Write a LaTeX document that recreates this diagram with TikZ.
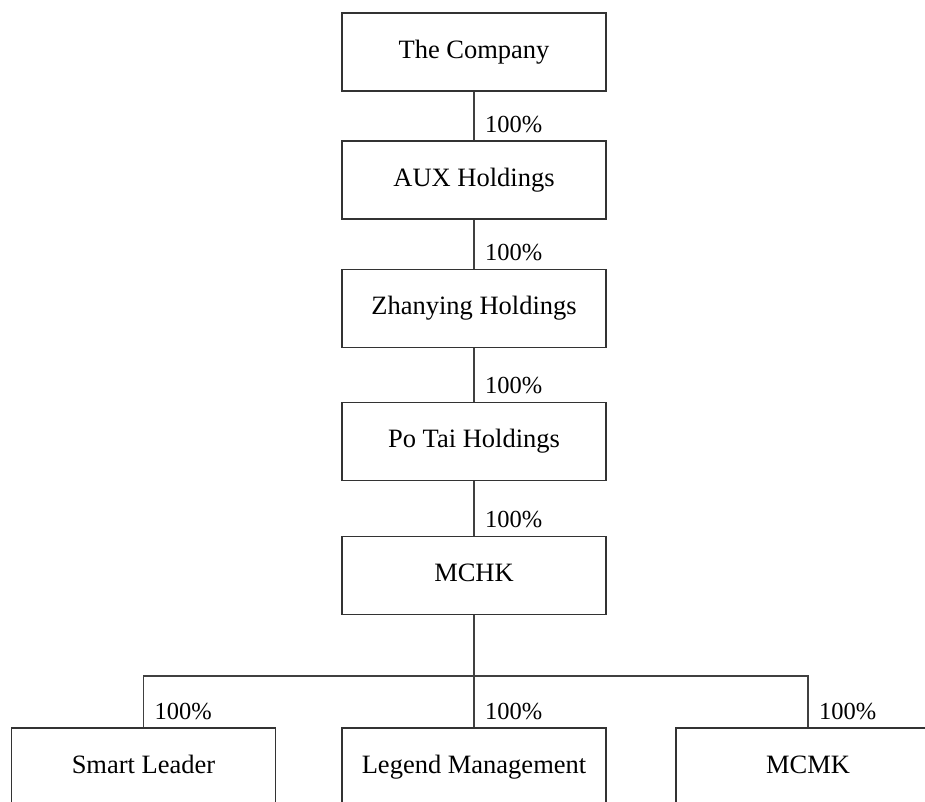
\documentclass[tikz,border=0pt]{standalone}
\usepackage{fontspec}
\setmainfont{Liberation Serif}
\usetikzlibrary{calc}
\begin{document}
\begin{tikzpicture}[x=1pt,y=-1pt,
  entity/.style={draw=black!80,line width=1.2pt,rectangle,minimum width=264pt,minimum height=78pt,inner sep=0pt,text height=18pt,text depth=6pt,font=\fontsize{26.5}{30}\selectfont},
  link/.style={draw=black!75,line width=1.2pt},
  pct/.style={anchor=base west,inner sep=0pt,font=\fontsize{24.5}{28}\selectfont}]
\useasboundingbox (0,0) rectangle (925,801);
\clip (0,0) rectangle (925,801);
\node[entity] (c0) at (474,52) {The Company};
\node[entity] (c1) at (474,180) {AUX Holdings};
\node[entity] (c2) at (474,308.5) {Zhanying Holdings};
\node[entity] (c3) at (474,441.5) {Po Tai Holdings};
\node[entity] (c4) at (474,575.5) {MCHK};
\node[entity] (s) at (143.5,767) {Smart Leader};
\node[entity] (l) at (474,767) {Legend Management};
\node[entity] (mk) at (808,767) {MCMK};
\coordinate (bar) at (474,676);
\draw[link] (c0.south) -- (c1.north);
\draw[link] (c1.south) -- (c2.north);
\draw[link] (c2.south) -- (c3.north);
\draw[link] (c3.south) -- (c4.north);
\draw[link] (c4.south) -- (l.north);
\draw[link] (s.north) |- (bar) -| (mk.north);
\node[pct] (p1) at ($(c1.north)+(11,-8)$) {100\%};
\node[pct] (p2) at ($(c2.north)+(11,-8)$) {100\%};
\node[pct] (p3) at ($(c3.north)+(11,-8)$) {100\%};
\node[pct] (p4) at ($(c4.north)+(11,-8)$) {100\%};
\node[pct] (p5) at ($(s.north)+(11,-8)$) {100\%};
\node[pct] (p6) at ($(l.north)+(11,-8)$) {100\%};
\node[pct] (p7) at ($(mk.north)+(11,-8)$) {100\%};
\end{tikzpicture}
\end{document}
